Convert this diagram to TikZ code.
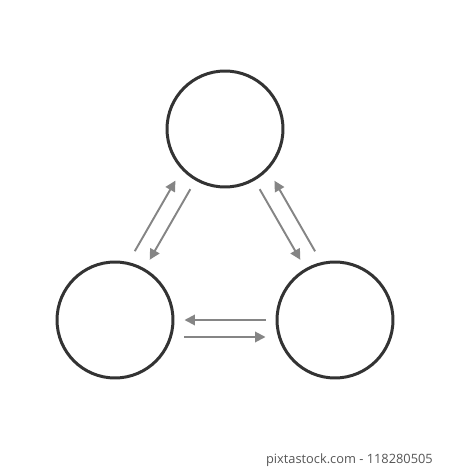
\documentclass[tikz,border=0pt]{standalone}
\usepackage{fontspec}
\setsansfont{Open Sans}
\usetikzlibrary{arrows.meta}
\definecolor{ringgray}{HTML}{333333}
\definecolor{arrowgray}{HTML}{858585}
\definecolor{notegray}{HTML}{555555}

\begin{document}
\begin{tikzpicture}[x=0.02cm,y=-0.02cm,>={Triangle[length=0.21cm,width=0.21cm]},
		ring/.style={circle, draw=ringgray, line width=1.7pt, minimum size=2.32cm, inner sep=0pt},
		flow/.style={->, draw=arrowgray, line width=1.1pt, shorten <=0.2cm, shorten >=0.2cm}]
				\useasboundingbox (0,0) rectangle (450,469);
				
				% draw the three circles
				\node[ring] (top) at (225,129) {};
				\node[ring] (left) at (115,320) {};
				\node[ring] (right) at (335,320) {};
				
				% arrows on the centre lines
				\draw[flow] (top) -- (left);
				\draw[flow] (top) -- (right);
				\draw[flow] (right) -- (left);
				
				% arrows moved to the outside
				\draw[flow, transform canvas={shift={(-0.298cm,0.172cm)}}] (left) -- (top);
				\draw[flow, transform canvas={shift={(0.295cm,0.17cm)}}] (right) -- (top);
				\draw[flow, transform canvas={shift={(0cm,-0.34cm)}}] (left) -- (right);
				
				% footer
				\node[anchor=base east, text=notegray, font=\sffamily\fontsize{7.3}{9}\selectfont] (note) at (439,463) {pixtastock.com - 118280505};
			\end{tikzpicture}
\end{document}
